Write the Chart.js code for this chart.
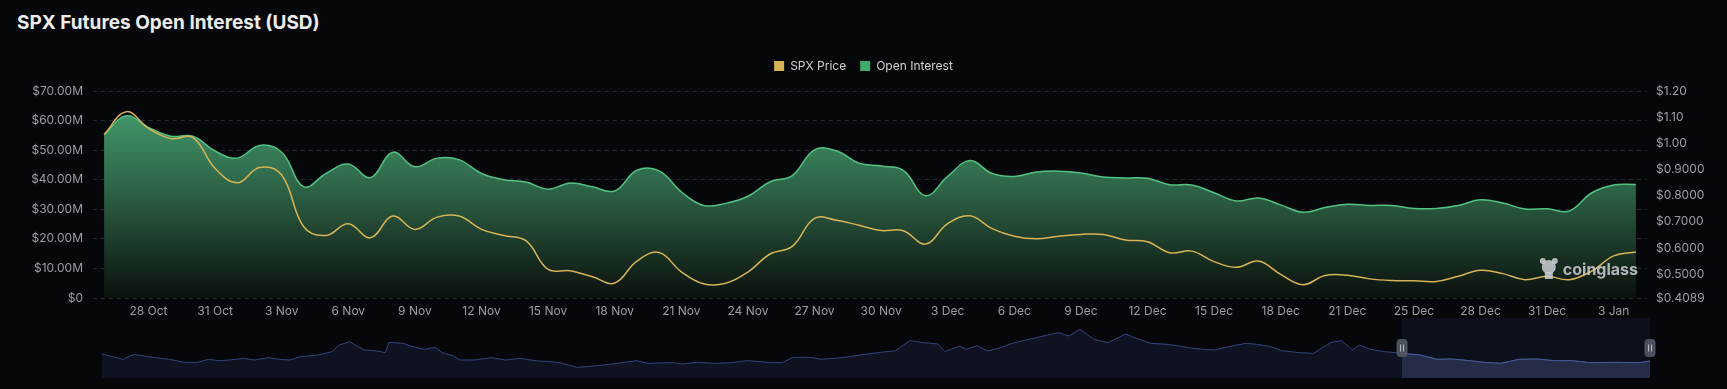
<!DOCTYPE html>
<html>
<head>
<meta charset="utf-8">
<script src="https://cdn.jsdelivr.net/npm/chart.js@4.4.1/dist/chart.umd.min.js"></script>
<style>
  html, body { margin: 0; padding: 0; background: #06070b; }
  body { width: 1727px; height: 389px; position: relative; overflow: hidden; }
  #title { position: absolute; left: 17px; top: 13px; font: 700 19px/19px Inter, "Liberation Sans", sans-serif; color: #ececec; white-space: nowrap; }
  #main { position: absolute; left: 0; top: 0; }
  #nav { position: absolute; left: 0; top: 312px; }
</style>
</head>
<body>
<div id="title">SPX Futures Open Interest (USD)</div>
<canvas id="main" width="1727" height="330"></canvas>
<canvas id="nav" width="1727" height="72"></canvas>
<script>
// ---- data ----
const categories = [
  '26 Oct','27 Oct','28 Oct','29 Oct','30 Oct','31 Oct',
  '1 Nov','2 Nov','3 Nov','4 Nov','5 Nov','6 Nov','7 Nov','8 Nov','9 Nov','10 Nov',
  '11 Nov','12 Nov','13 Nov','14 Nov','15 Nov','16 Nov','17 Nov','18 Nov','19 Nov','20 Nov',
  '21 Nov','22 Nov','23 Nov','24 Nov','25 Nov','26 Nov','27 Nov','28 Nov','29 Nov','30 Nov',
  '1 Dec','2 Dec','3 Dec','4 Dec','5 Dec','6 Dec','7 Dec','8 Dec','9 Dec','10 Dec',
  '11 Dec','12 Dec','13 Dec','14 Dec','15 Dec','16 Dec','17 Dec','18 Dec','19 Dec','20 Dec',
  '21 Dec','22 Dec','23 Dec','25 Dec','26 Dec','27 Dec','28 Dec','29 Dec','30 Dec','31 Dec',
  '1 Jan','2 Jan','3 Jan','4 Jan'
];
// Open interest, USD millions
const openInterest = [
  55.3, 61.6, 57.7, 54.7, 54.7, 49.7, 47.3, 51.6, 49.3, 37.6,
  42.1, 45.3, 40.7, 49.3, 44.4, 47.3, 46.7, 42.1, 40.0, 39.2,
  36.8, 38.9, 37.6, 36.2, 43.2, 43.0, 35.9, 31.3, 32.0, 34.4,
  39.3, 41.4, 50.1, 49.7, 45.6, 44.6, 43.2, 34.6, 41.1, 46.5,
  42.1, 41.1, 42.6, 42.9, 42.3, 40.9, 40.6, 40.5, 38.3, 38.2,
  35.6, 32.8, 33.8, 31.5, 29.0, 30.6, 31.7, 31.3, 31.3, 30.3,
  30.3, 31.3, 33.2, 32.1, 30.1, 30.2, 29.4, 35.5, 38.2, 38.4
];
// SPX price, USD
const spxPrice = [
  1.034, 1.121, 1.057, 1.018, 1.022, 0.904, 0.849, 0.908, 0.879, 0.680,
  0.648, 0.693, 0.639, 0.722, 0.671, 0.718, 0.722, 0.671, 0.648, 0.628,
  0.518, 0.513, 0.490, 0.466, 0.550, 0.583, 0.509, 0.463, 0.465, 0.508,
  0.577, 0.606, 0.713, 0.706, 0.687, 0.667, 0.666, 0.615, 0.693, 0.723,
  0.674, 0.645, 0.635, 0.645, 0.652, 0.652, 0.631, 0.624, 0.582, 0.588,
  0.548, 0.526, 0.550, 0.499, 0.460, 0.495, 0.496, 0.482, 0.476, 0.475,
  0.472, 0.492, 0.515, 0.502, 0.479, 0.492, 0.479, 0.511, 0.570, 0.585
];
const oiTicks = [0, 10, 20, 30, 40, 50, 60, 70];
const priceTicks = [0.4089, 0.5, 0.6, 0.7, 0.8, 0.9, 1.0, 1.1, 1.2];

// navigator: full history (day index, open interest USD millions)
const navDay = [0,3,6,9,13,19,23,27,30,33,36,40,43,47,50,53,56,61,65,67,70,72,74,77,80,81,85,87,91,94,96,99,101,105,110,114,118,123,127,130,134,139,144,151,154,161,164,168,173,178,182,188,192,195,200,203,209,214,219,224,228,232,236,238,242,244,247,250,253,257,260,263,267,270,273,276,280,284,289,292,296,301,304,308,311,314,319,323,326,330,333,338,342,347,350,353,355,358,362,367,372,377,381,386,391,395,400,405,410,415,420,427,434,437];
const navOI = [51.2,46.4,41.6,50.6,46.4,41.6,36.2,36.2,41.6,39.2,40.4,43.4,40.4,44.6,41.6,40.4,46.4,49.4,55.4,67.4,73.4,65.6,58.4,57.2,53.6,72.2,70.4,65.6,59.6,63.2,53.6,48.2,40.4,40.4,44.6,40.4,43.4,38.6,37.4,34.4,27.2,29.6,33.2,39.2,34.4,35.6,33.2,36.2,34.4,35.6,39.2,36.2,35.6,45.2,45.2,41.6,44.6,49.4,53.6,57.2,75.2,71.6,69.2,55.4,65.6,59.6,66.2,56.6,61.4,70.4,75.2,79.4,85.4,89.6,83.6,95.6,77.6,71.6,87.2,79.4,70.4,68.6,65.6,61.4,59.6,58.4,65.6,70.4,68.6,64.4,57.2,53.6,52.4,72.2,75.2,58.4,67.4,59.6,55.4,52.4,49.4,41.6,42.2,39.2,35.6,34.4,41.6,42.2,39.2,39.2,35.6,36.2,35.6,38.6];
const navSelectStart = 367;   // day index of the first day shown in the main chart
const navSelectEnd = 437;

// ---- main chart ----
Chart.defaults.font.family = 'Inter, Roboto, "Liberation Sans", sans-serif';
Chart.defaults.font.size = 12;
Chart.defaults.color = '#9c9ea3';

const legendSpacer = {
  id: 'legendSpacer',
  beforeInit(chart) {
    const origFit = chart.legend.fit;
    chart.legend.fit = function () { origFit.bind(chart.legend)(); this.height += 9; };
  }
};

const watermark = {
  id: 'watermark',
  afterDatasetsDraw(chart) {
    const { ctx, chartArea } = chart;
    ctx.save();
    ctx.font = '700 16px Inter, Roboto, sans-serif';
    ctx.fillStyle = 'rgba(205,207,212,0.85)';
    ctx.textAlign = 'right';
    ctx.textBaseline = 'middle';
    const tx = chartArea.right - 9, ty = chartArea.bottom - 28;
    ctx.fillText('coinglass', tx, ty);
    const w = ctx.measureText('coinglass').width;
    const lx = tx - w - 14;
    ctx.beginPath();
    ctx.arc(lx, ty - 3, 7, 0, Math.PI * 2);
    ctx.fill();
    ctx.beginPath();
    ctx.arc(lx - 6, ty - 9, 3, 0, Math.PI * 2);
    ctx.arc(lx + 6, ty - 9, 3, 0, Math.PI * 2);
    ctx.fill();
    ctx.fillRect(lx - 4, ty + 2, 8, 7);
    ctx.restore();
  }
};

new Chart(document.getElementById('main'), {
  type: 'line',
  data: {
    labels: categories,
    datasets: [
      {
        label: 'SPX Price',
        data: spxPrice,
        yAxisID: 'yPrice',
        borderColor: '#d6b355',
        borderWidth: 1.5,
        pointRadius: 0,
        tension: 0.4,
        fill: false,
        legendColor: '#d6b355'
      },
      {
        label: 'Open Interest',
        data: openInterest,
        yAxisID: 'yOI',
        borderColor: '#52c284',
        borderWidth: 1.5,
        pointRadius: 0,
        tension: 0.4,
        fill: 'start',
        legendColor: '#3fae6c',
        backgroundColor(ctx) {
          const area = ctx.chart.chartArea;
          if (!area) return 'rgba(0,0,0,0)';
          const g = ctx.chart.ctx.createLinearGradient(0, area.top, 0, area.bottom);
          g.addColorStop(0, '#46a673');
          g.addColorStop(0.5, '#2c5f43');
          g.addColorStop(1, '#0b110d');
          return g;
        }
      }
    ]
  },
  options: {
    responsive: false,
    animation: false,
    layout: { padding: { top: 46, left: 0, right: 0, bottom: 0 } },
    plugins: {
      tooltip: { enabled: false },
      legend: {
        position: 'top',
        align: 'center',
        labels: {
          boxWidth: 10,
          boxHeight: 10,
          padding: 14,
          color: '#cfd0d3',
          font: { size: 12 },
          generateLabels(chart) {
            return chart.data.datasets.map((ds, i) => ({
              text: ds.label,
              fillStyle: ds.legendColor,
              strokeStyle: ds.legendColor,
              lineWidth: 0,
              hidden: !chart.isDatasetVisible(i),
              datasetIndex: i,
              fontColor: '#cfd0d3'
            }));
          }
        }
      }
    },
    scales: {
      x: {
        type: 'category',
        offset: true,
        grid: { display: false, drawTicks: false },
        border: { display: false },
        ticks: {
          autoSkip: false,
          maxRotation: 0,
          padding: 6,
          color: '#9c9ea3',
          callback(v, i) { return i % 3 === 2 ? categories[i] : ''; }
        },
        afterFit(scale) { scale.height = 32; }
      },
      yOI: {
        position: 'left',
        min: 0,
        max: 70,
        afterBuildTicks(scale) { scale.ticks = oiTicks.map(v => ({ value: v })); },
        grid: { color: '#25282e', drawTicks: false, lineWidth: 1 },
        border: { display: false, dash: [4, 4] },
        ticks: {
          padding: 10,
          color: '#9c9ea3',
          callback(v) { return v === 0 ? '$0' : '$' + v.toFixed(2) + 'M'; }
        },
        afterFit(scale) { scale.width = 93; }
      },
      yPrice: {
        position: 'right',
        min: 0.4089,
        max: 1.2,
        afterBuildTicks(scale) { scale.ticks = priceTicks.map(v => ({ value: v })); },
        grid: { display: false, drawTicks: false },
        border: { display: false },
        ticks: {
          padding: 9,
          color: '#9c9ea3',
          callback(v) { return v >= 1 ? '$' + v.toFixed(2) : '$' + v.toFixed(4); }
        },
        afterFit(scale) { scale.width = 80; }
      }
    }
  },
  plugins: [legendSpacer, watermark]
});

// ---- navigator ----
const navAll = navDay.map((d, i) => ({ x: d, y: navOI[i] }));
const navSel = navAll.filter(p => p.x >= navSelectStart && p.x <= navSelectEnd);

const selectionPlugin = {
  id: 'selection',
  beforeDatasetsDraw(chart) {
    const { ctx, chartArea, scales } = chart;
    const x0 = scales.x.getPixelForValue(navSelectStart);
    const x1 = scales.x.getPixelForValue(navSelectEnd);
    ctx.save();
    ctx.fillStyle = '#0c0f1c';
    ctx.fillRect(x0, chartArea.top, x1 - x0, chartArea.bottom - chartArea.top);
    ctx.restore();
  },
  afterDatasetsDraw(chart) {
    const { ctx, chartArea, scales } = chart;
    const cy = (chartArea.top + chartArea.bottom) / 2;
    [navSelectStart, navSelectEnd].forEach(v => {
      const x = scales.x.getPixelForValue(v);
      ctx.save();
      ctx.fillStyle = '#4e525e';
      ctx.beginPath();
      ctx.roundRect(x - 5.5, cy - 9, 11, 18, 4);
      ctx.fill();
      ctx.strokeStyle = '#b9bcc4';
      ctx.lineWidth = 1;
      ctx.beginPath();
      ctx.moveTo(x - 1.5, cy - 3.5); ctx.lineTo(x - 1.5, cy + 3.5);
      ctx.moveTo(x + 1.5, cy - 3.5); ctx.lineTo(x + 1.5, cy + 3.5);
      ctx.stroke();
      ctx.restore();
    });
  }
};

new Chart(document.getElementById('nav'), {
  type: 'line',
  data: {
    datasets: [
      {
        data: navSel,
        borderColor: '#4a5d9c',
        borderWidth: 1,
        backgroundColor: '#252c48',
        fill: 'start',
        pointRadius: 0,
        tension: 0
      },
      {
        data: navAll,
        borderColor: '#34447a',
        borderWidth: 1,
        backgroundColor: '#0e1221',
        fill: 'start',
        pointRadius: 0,
        tension: 0
      }
    ]
  },
  options: {
    responsive: false,
    animation: false,
    layout: { padding: { top: 6, bottom: 6, left: 102, right: 77 } },
    plugins: { legend: { display: false }, tooltip: { enabled: false } },
    scales: {
      x: { type: 'linear', min: 0, max: navSelectEnd, display: false },
      y: { min: 8, max: 116, display: false }
    }
  },
  plugins: [selectionPlugin]
});
</script>
</body>
</html>
